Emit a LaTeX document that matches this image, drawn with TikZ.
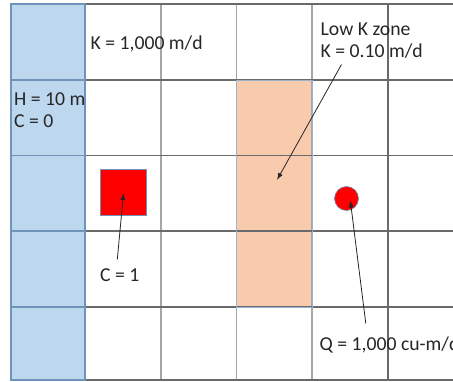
\documentclass[tikz,border=0pt]{standalone}
\usepackage{fontspec}
\setmainfont{Carlito}
\usetikzlibrary{arrows.meta}
\definecolor{colblue}{HTML}{BDD7EE}
\definecolor{colblueb}{HTML}{6F93BA}
\definecolor{colorange}{HTML}{F8CBAD}
\definecolor{gridc}{HTML}{6A6A6A}
\definecolor{gridl}{HTML}{A6A6A6}
\tikzset{
  lbl/.style={anchor=base west, inner sep=0pt, font=\fontsize{19.7}{23}\selectfont, text=black!85},
  hline/.style={draw=gridc, line width=1.1pt},
  vline/.style={draw=gridl, line width=1.1pt},
  ptr/.style={draw=black!85, line width=0.8pt, -{Latex[length=7pt,width=5pt]}},
}
\begin{document}
\begin{tikzpicture}[x=1pt,y=-1pt]
\useasboundingbox[fill=white] (0,0) rectangle (453,381);
% fills
\fill[colblue] (11,4) rectangle (85,380);
\fill[colorange] (236.5,80) rectangle (312,307);
% grid vertical
\foreach \x in {161,236.5,312} \draw[vline] (\x,4) -- (\x,380);
\draw[hline] (388,4) -- (388,380);
% grid horizontal
\foreach \y in {4,80,155.5,231,307,380} \draw[hline] (85,\y) -- (453,\y);
\foreach \y in {4,80,155.5,231,307,380} \draw[draw=colblueb, line width=1.1pt] (11,\y) -- (85,\y);
% blue column border
\draw[colblueb, line width=1.1pt] (11,4) rectangle (85,380);
\draw[colblueb!70, line width=0.6pt] (236.5,80) rectangle (312,307);
% red shapes
\node[draw=colblueb, fill=red, line width=0.6pt, minimum width=46pt, minimum height=46pt, inner sep=0pt] (sq) at (123,192.5) {};
\node[draw=colblueb, fill=red, line width=0.6pt, circle, minimum size=24pt, inner sep=0pt] (well) at (346.5,198.5) {};
% labels
\node[lbl] (kmain) at (90.5,49.5) {K = 1,000 m/d};
\node[lbl] (h) at (14,105.5) {H = 10 m};
\node[lbl] (c0) at (14,127.5) {C = 0};
\node[lbl] (lowk1) at (320.5,35) {Low K zone};
\node[lbl] (lowk2) at (320.5,57.5) {K = 0.10 m/d};
\node[lbl] (c1) at (100,281.5) {C = 1};
\node[lbl] (q) at (319.5,350.5) {Q = 1,000 cu-m/d};
% arrows
\coordinate (a1s) at (117.3,259.5);
\coordinate (a1e) at (123.5,193);
\coordinate (a2s) at (341.5,64.5);
\coordinate (a2e) at (277,180);
\coordinate (a3s) at (365.8,323.5);
\coordinate (a3e) at (350.3,200.5);
\draw[ptr] (a1s) -- (a1e);
\draw[ptr] (a2s) -- (a2e);
\draw[ptr] (a3s) -- (a3e);
\end{tikzpicture}
\end{document}
